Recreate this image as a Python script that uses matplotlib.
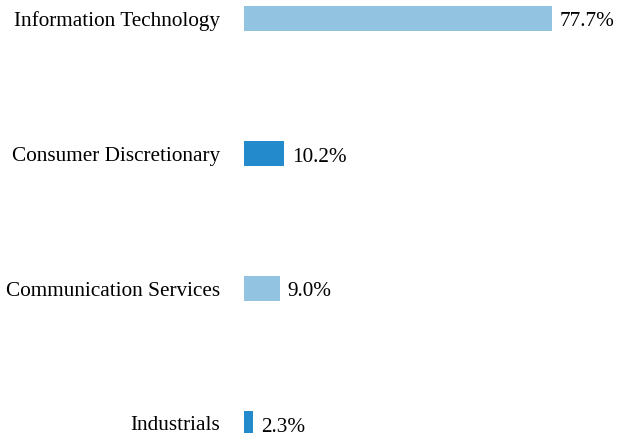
import matplotlib
matplotlib.use("Agg")
import matplotlib.pyplot as plt

categories = ["Information Technology", "Consumer Discretionary", "Communication Services", "Industrials"]
values = [77.7, 10.2, 9.0, 2.3]
colors = ["#92c3e1", "#238acb", "#92c3e1", "#238acb"]
labels = ["77.7%", "10.2%", "9.0%", "2.3%"]

plt.rcParams['font.family'] = ['Liberation Serif', 'DejaVu Serif']

W, H = 618, 433
fig = plt.figure(figsize=(W/100, H/100), dpi=100)
ax = fig.add_axes([244/W, 0, 1 - 244/W, 1])

y = list(range(len(categories)))
ax.barh(y, values, height=25/135, color=colors)
ax.set_ylim(3 + 9.5/135, -18.5/135)
ax.set_xlim(0, 77.7 * (W - 244) / 308)

for yi, v, lab in zip(y, values, labels):
    ax.annotate(lab, (v, yi), xytext=(8, -1), textcoords="offset pixels",
                va="center_baseline", ha="left", fontsize=15.3)

ax.set_yticks(y)
ax.set_yticklabels(categories, fontsize=15.3, va="center_baseline")
ax.tick_params(axis='y', length=0, pad=17)
ax.set_xticks([])
for s in ax.spines.values():
    s.set_visible(False)

fig.savefig("out.png", dpi=100)
